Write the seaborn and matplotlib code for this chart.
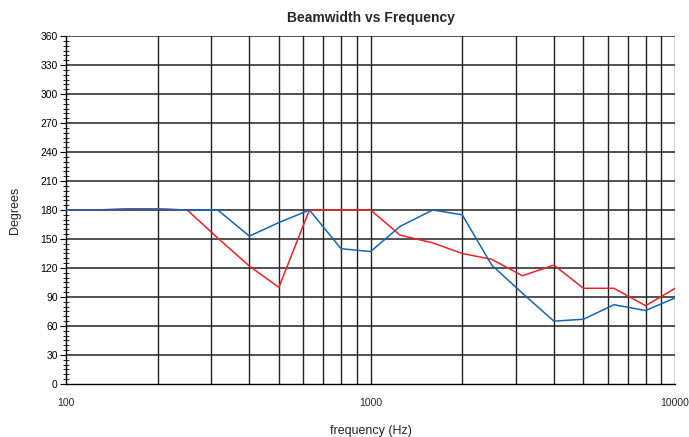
import seaborn as sns
import numpy as np
import pandas as pd
import matplotlib.pyplot as plt
from matplotlib.ticker import FixedLocator, MultipleLocator, NullFormatter

sns.set_style('white')
plt.rcParams['font.family'] = ['Liberation Sans', 'DejaVu Sans']

freq = [100, 125, 160, 200, 250, 315, 400, 500, 630, 800, 1000,
        1250, 1600, 2000, 2500, 3150, 4000, 5000, 6300, 8000, 10000]
red_deg = [180, 180, 181, 181, 180, 151, 122, 100, 180, 180, 180,
           154, 146, 135, 129, 112, 123, 99, 99, 81, 99]
blue_deg = [180, 180, 181, 181, 180, 180, 153, 167, 180, 140, 137,
            163, 180, 175, 123, 94, 65, 67, 82, 76, 89]

fig = plt.figure(figsize=(6.89, 4.37), dpi=100)
ax = fig.add_axes([0.0958, 0.1213, 0.884, 0.7963])

# grid first so lines sit on top
grid_x = [f * m for m in (100, 1000) for f in range(1, 10)][1:] + [10000]
for gx in grid_x:
    ax.axvline(gx, color='#222222', lw=1.0, zorder=1)
for gy in range(30, 361, 30):
    ax.axhline(gy, color='#222222', lw=1.1, zorder=1)

# red first, blue on top
sns.lineplot(x=freq, y=red_deg, color='#EE2229', linewidth=1.1, ax=ax,
             zorder=3, sort=False)
sns.lineplot(x=freq, y=blue_deg, color='#1565B5', linewidth=1.1, ax=ax,
             zorder=4, sort=False)

ax.set_xscale('log')
ax.set_xlim(100, 10000)
ax.set_ylim(0, 360)
ax.xaxis.set_major_locator(FixedLocator([100, 1000, 10000]))
ax.xaxis.set_minor_formatter(NullFormatter())
ax.set_xticklabels(['100', '1000', '10000'])
ax.yaxis.set_major_locator(MultipleLocator(30))
ax.yaxis.set_minor_locator(MultipleLocator(5))

ax.tick_params(axis='y', which='major', left=True, direction='out', length=4,
               width=0.8, labelsize=7.5, pad=2, colors='black')
ax.tick_params(axis='y', which='minor', left=True, direction='inout', length=4,
               width=0.6, colors='black')
ax.tick_params(axis='x', which='both', length=0, labelsize=7.5, pad=10)

for side in ['top', 'right']:
    ax.spines[side].set_visible(False)
for side in ['left', 'bottom']:
    ax.spines[side].set_color('black')
    ax.spines[side].set_linewidth(1.0)

ax.set_xlabel('frequency (Hz)', fontsize=9, labelpad=12)
ax.set_ylabel('Degrees', fontsize=9, labelpad=14)
ax.set_title('Beamwidth vs Frequency', fontsize=10, fontweight='bold', pad=10)

fig.savefig('out.png', dpi=100)
